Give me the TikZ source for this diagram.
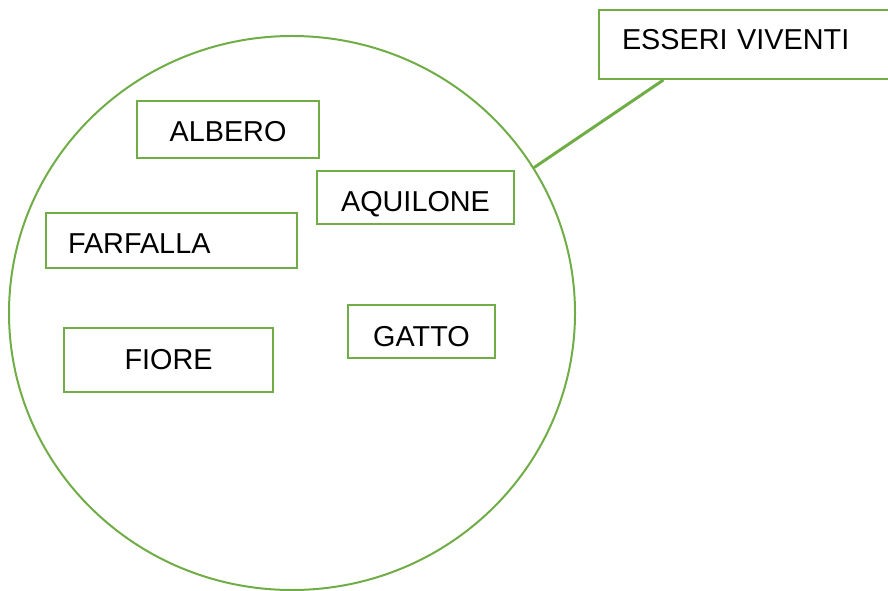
\documentclass[tikz,border=0pt]{standalone}
\usepackage{fontspec}
\setmainfont{Liberation Sans}
\usetikzlibrary{shapes.geometric,calc}
\definecolor{verde}{RGB}{112,173,71}

\begin{document}
\begin{tikzpicture}[x=0.75pt,y=-0.75pt, every node/.style={font=\fontsize{21.6}{26}\selectfont},
    voce/.style={draw=verde, line width=1.5pt, rectangle, inner sep=0pt, text height=30.2pt}]
    \useasboundingbox (0,0) rectangle (888,591);
    \clip (0,0) rectangle (888,591);
    % insieme degli esseri viventi
    \node[draw=verde, line width=1.5pt, ellipse, minimum width=424.5pt, minimum height=415.5pt, inner sep=0pt] (insieme) at (292,313) {};
    \node[voce, minimum width=136.5pt, text depth=12.5pt, anchor=north] (albero) at (228,100) {ALBERO};
    \node[voce, minimum width=147.75pt, text depth=9.5pt, anchor=north] (aquilone) at (415.5,170) {AQUILONE};
    \node[voce, inner xsep=16.5pt, text width=155.25pt, align=left, text depth=11pt, anchor=north] (farfalla) at (171.5,212) {FARFALLA};
    \node[voce, minimum width=156.75pt, text height=31pt, text depth=17pt, anchor=north] (fiore) at (168.5,327) {FIORE};
    \node[voce, minimum width=110.25pt, text height=31pt, text depth=8.8pt, anchor=north] (gatto) at (421.5,304) {GATTO};
    % etichetta
    \node[voce, anchor=north west, inner xsep=17.25pt, text width=192pt, align=left, text height=29.5pt, text depth=22.25pt] (viventi) at (598,9) {ESSERI VIVENTI};
    \draw[verde, line width=2.25pt] ($(viventi.south west)!0.215!(viventi.south east)$) -- (insieme.31);
\end{tikzpicture}
\end{document}
